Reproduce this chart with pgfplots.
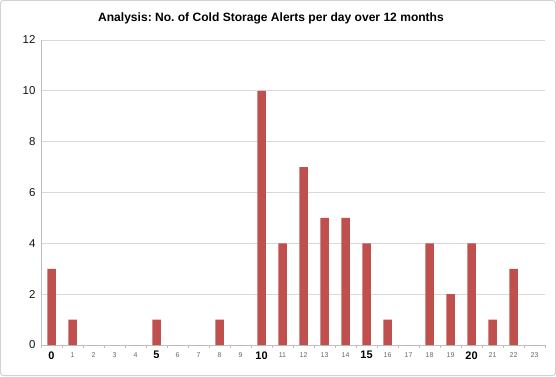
\documentclass[border=0pt]{standalone}
\usepackage{fontspec}
\setmainfont{Liberation Sans}
\usepackage{pgfplots}
\pgfplotsset{compat=1.18}
\definecolor{barred}{RGB}{192,80,77}
\newcommand\bl[1]{\textbf{\fontsize{11}{12}\selectfont #1}}
\newcommand\sm[1]{{\color{gray!80!black}\fontsize{7}{8}\selectfont #1}}
\frenchspacing
\begin{document}
\begin{tikzpicture}[x=1bp,y=1bp]
\draw[gray!35, line width=1bp, rounded corners=3bp] (0.5,0.5) rectangle (555.5,375.5);
\node[font=\bfseries\fontsize{12.1}{14}\selectfont] at (271,358) {Analysis: No.\ of Cold Storage Alerts per day over 12 months};
\begin{axis}[
  at={(41bp,31bp)}, anchor=south west,
  scale only axis, width=504bp, height=305bp,
  ymin=0, ymax=12, ytick={0,2,...,12},
  ymajorgrids, grid style={gray!30, line width=0.8bp},
  xmin=-0.5, xmax=23.5,
  axis x line*=bottom, axis y line*=left,
  axis line style={gray!50, line width=0.8bp},
  ybar, bar width=8.5bp,
  ytick style={draw=none},
  yticklabel style={font=\fontsize{11.5}{12}\selectfont, color=gray!15!black, xshift=-2bp},
  /pgf/number format/assume math mode=true,
  xtick={0,...,23},
  xtick style={draw=none},
  xticklabels={\bl{0},\sm{1},\sm{2},\sm{3},\sm{4},\bl{5},\sm{6},\sm{7},\sm{8},\sm{9},\bl{10},\sm{11},\sm{12},\sm{13},\sm{14},\bl{15},\sm{16},\sm{17},\sm{18},\sm{19},\bl{20},\sm{21},\sm{22},\sm{23}},
  xticklabel style={anchor=center, yshift=-6bp},
  extra x ticks={-0.5,0.5,...,23.5},
  extra x tick labels={},
  extra x tick style={xtick style={draw=gray!50, line width=0.6bp}, tick align=outside, major tick length=3bp, grid=none},
]
\addplot[fill=barred, draw=none] coordinates {
(0,3) (1,1) (2,0) (3,0) (4,0) (5,1) (6,0) (7,0) (8,1) (9,0) (10,10) (11,4)
(12,7) (13,5) (14,5) (15,4) (16,1) (17,0) (18,4) (19,2) (20,4) (21,1) (22,3) (23,0)
};
\end{axis}
\end{tikzpicture}
\end{document}
